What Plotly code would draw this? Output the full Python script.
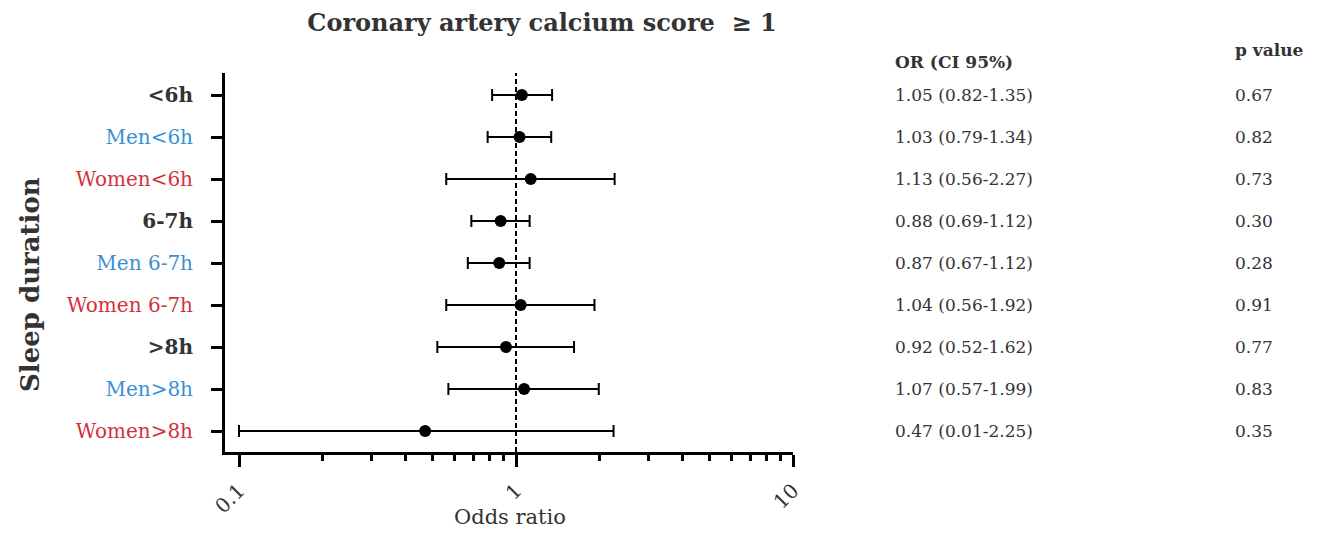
import plotly.graph_objects as go
import math

labels = ["<6h", "Men<6h", "Women<6h", "6-7h", "Men 6-7h", "Women 6-7h", ">8h", "Men>8h", "Women>8h"]
groups = ["all", "men", "women", "all", "men", "women", "all", "men", "women"]
odds = [1.05, 1.03, 1.13, 0.88, 0.87, 1.04, 0.92, 1.07, 0.47]
ci_low = [0.82, 0.79, 0.56, 0.69, 0.67, 0.56, 0.52, 0.57, 0.01]
ci_high = [1.35, 1.34, 2.27, 1.12, 1.12, 1.92, 1.62, 1.99, 2.25]
p_values = ["0.67", "0.82", "0.73", "0.30", "0.28", "0.91", "0.77", "0.83", "0.35"]
x_major = [0.1, 1, 10]
x_minor = [0.2, 0.3, 0.4, 0.5, 0.6, 0.7, 0.8, 0.9, 2, 3, 4, 5, 6, 7, 8, 9]

AXIS_MIN = 0.1  # whiskers are clipped at the lowest labelled value
colors = {"all": "#333333", "men": "#3b8fd4", "women": "#d2323a"}
SERIF = "DejaVu Serif"
OFF = 8  # page body margin

# desired plot area in page pixels
PL, PR, PT, PB = 225, 793, 73, 452
W, H = 1322, 533
PW, PH = PR - PL, PB - PT

def esc(s):
    return s.replace("<", "&lt;").replace(">", "&gt;")

def px(x):
    return (x - PL) / PW

def py(y):
    return (PB - y) / PH

ypos = list(range(len(labels)))
plot_low = [max(l, AXIS_MIN) for l in ci_low]
err_minus = [o - l for o, l in zip(odds, plot_low)]
err_plus = [h - o for o, h in zip(odds, ci_high)]

fig = go.Figure()
fig.add_trace(go.Scatter(
    x=odds, y=ypos, mode="markers",
    marker=dict(color="black", size=12),
    error_x=dict(type="data", symmetric=False, array=err_plus, arrayminus=err_minus,
                 color="black", thickness=2, width=6),
    showlegend=False, hoverinfo="skip"))

fig.add_shape(type="line", xref="x", yref="paper", x0=1, x1=1, y0=0, y1=1,
              line=dict(color="black", width=2, dash="5px,3px"))

ticktext = []
for lab, g in zip(labels, groups):
    t = esc(lab)
    if g == "all":
        t = "<b>" + t + "</b>"
    ticktext.append('<span style="color:%s">%s</span>' % (colors[g], t))

xticktext = ["%g" % v for v in x_major]

fig.update_layout(
    width=W, height=H,
    margin=dict(l=PL - OFF, r=W - (PR - OFF), t=PT - OFF, b=H - (PB - OFF)),
    plot_bgcolor="white", paper_bgcolor="white",
    title=dict(text="<b>Coronary artery calcium score  ≥ 1</b>", x=(542 - OFF) / W, xanchor="center",
               xref="container", y=1 - (23 - OFF) / H, yanchor="middle", yref="container",
               font=dict(family=SERIF, size=24, color="#333333")),
    xaxis=dict(type="log", range=[math.log10(AXIS_MIN) - 14/277, 1.0],
               tickvals=x_major, ticktext=xticktext, tickangle=-45,
               ticks="outside", ticklen=12, tickwidth=2.5, tickcolor="black",
               minor=dict(tickvals=x_minor, ticks="outside", ticklen=6, tickwidth=2.5,
                          tickcolor="black", showgrid=False),
               showline=True, linewidth=3, linecolor="black", showgrid=False, zeroline=False,
               ticklabelstandoff=4,
               tickfont=dict(family=SERIF, size=20, color="#333333")),
    yaxis=dict(range=[8.5, -0.524], tickvals=ypos, ticktext=ticktext,
               ticks="outside", ticklen=11, tickwidth=2.5, tickcolor="black",
               showline=True, linewidth=3, linecolor="black", showgrid=False, zeroline=False,
               tickfont=dict(family=SERIF, size=20), ticklabelstandoff=14),
)

fig.add_annotation(text="Odds ratio", xref="paper", yref="paper",
                   x=px(510), y=py(517), xanchor="center", yanchor="middle", showarrow=False,
                   font=dict(family=SERIF, size=21, color="#333333"))
fig.add_annotation(text="<b>Sleep duration</b>", xref="paper", yref="paper",
                   x=px(30), y=py(285), xanchor="center", yanchor="middle",
                   textangle=-90, showarrow=False,
                   font=dict(family=SERIF, size=26, color="#333333"))

fig.add_annotation(text="<b>OR (CI 95%)</b>", xref="paper", yref="paper", x=px(893), y=py(62),
                   xanchor="left", yanchor="middle", showarrow=False,
                   font=dict(family=SERIF, size=17, color="#333333"))
fig.add_annotation(text="<b>p value</b>", xref="paper", yref="paper", x=px(1233), y=py(50),
                   xanchor="left", yanchor="middle", showarrow=False,
                   font=dict(family=SERIF, size=17, color="#333333"))
for i in ypos:
    fig.add_annotation(text="%.2f (%.2f-%.2f)" % (odds[i], ci_low[i], ci_high[i]),
                       xref="paper", yref="y", x=px(893), y=i, xanchor="left", yanchor="middle",
                       showarrow=False, font=dict(family=SERIF, size=17, color="#333333"))
    fig.add_annotation(text=p_values[i], xref="paper", yref="y", x=px(1233), y=i,
                       xanchor="left", yanchor="middle", showarrow=False,
                       font=dict(family=SERIF, size=17, color="#333333"))

fig.write_html("out.html")
